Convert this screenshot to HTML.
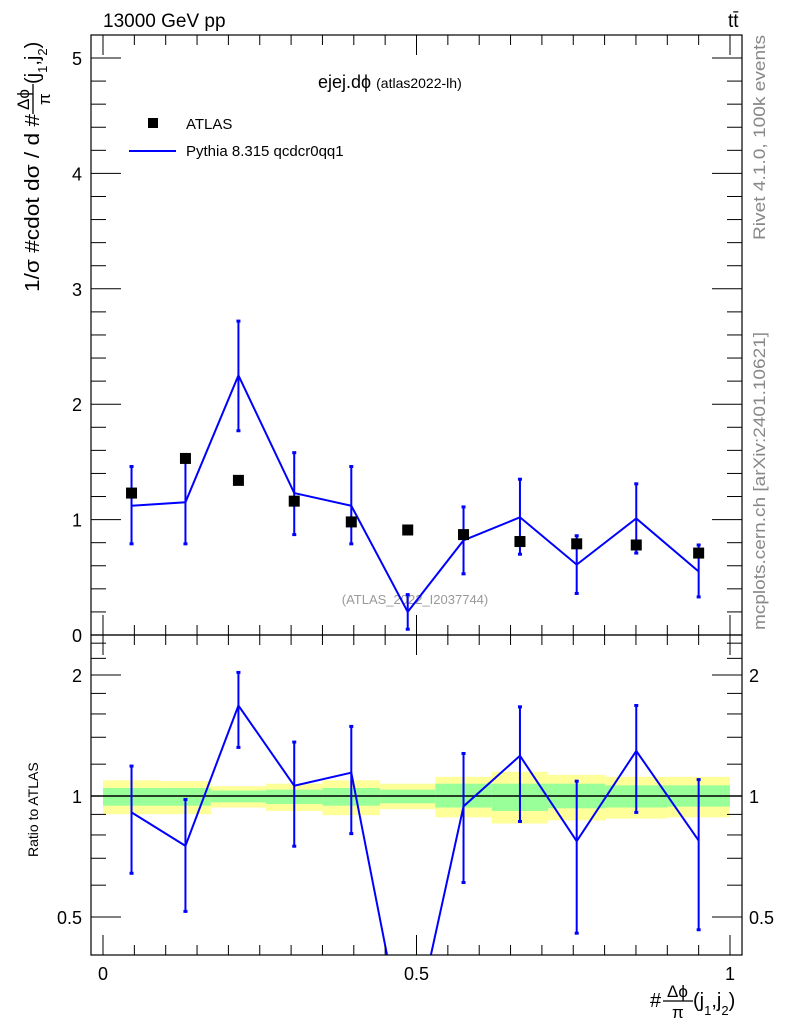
<!DOCTYPE html>
<html><head><meta charset="utf-8"><style>
html,body{margin:0;background:#fff;overflow:hidden;width:786px;height:1024px}
svg text{font-family:"Liberation Sans",sans-serif}
</style></head><body>
<svg id="c" width="786" height="1024" xmlns="http://www.w3.org/2000/svg" style="display:block;overflow:hidden">
<text x="103" y="27" font-size="19">13000 GeV pp</text>
<text x="728" y="27" font-size="19">tt̄</text>
<text x="318" y="88" font-size="18">ejej.dϕ <tspan font-size="14">(atlas2022-lh)</tspan></text>
<g>
<rect x="148" y="118" width="10" height="10" fill="#000"/>
<text x="186" y="129" font-size="15">ATLAS</text>
<line x1="129" y1="151" x2="176" y2="151" stroke="#0000ff" stroke-width="2"/>
<text x="186" y="156" font-size="15">Pythia 8.315 qcdcr0qq1</text>
</g>
<text x="415" y="604" font-size="13" fill="#999" text-anchor="middle">(ATLAS_2022_I2037744)</text>
<text transform="translate(765,240) rotate(-90)" font-size="17" fill="#888" textLength="205" lengthAdjust="spacingAndGlyphs">Rivet 4.1.0,  100k events</text>
<text transform="translate(765,630) rotate(-90)" font-size="17" fill="#888" textLength="298" lengthAdjust="spacingAndGlyphs">mcplots.cern.ch [arXiv:2401.10621]</text>
<g transform="translate(39,292) rotate(-90)">
<text x="0" y="0" font-size="20" textLength="178" lengthAdjust="spacingAndGlyphs">1/σ #cdot dσ / d #</text>
<text x="182" y="-10" font-size="17">Δϕ</text>
<line x1="178" y1="-6" x2="208" y2="-6" stroke="#000" stroke-width="1.3"/>
<text x="187" y="11" font-size="17">π</text>
<text x="208" y="0" font-size="20">(j<tspan font-size="13" dy="8">1</tspan><tspan dy="-8">,j</tspan><tspan font-size="13" dy="8">2</tspan><tspan dy="-8">)</tspan></text>
</g>
<text transform="translate(38,857) rotate(-90)" font-size="14">Ratio to ATLAS</text>
<g>
<text x="650" y="1007" font-size="20">#</text>
<text x="667" y="997" font-size="17">Δϕ</text>
<line x1="663" y1="1001" x2="693" y2="1001" stroke="#000" stroke-width="1.3"/>
<text x="672" y="1018" font-size="17">π</text>
<text x="693" y="1007" font-size="20">(j<tspan font-size="13" dy="8">1</tspan><tspan dy="-8">,j</tspan><tspan font-size="13" dy="8">2</tspan><tspan dy="-8">)</tspan></text>
</g>
<g id="bands"></g><g id="marks"></g><g id="axes"></g>
</svg>
<script>
const edges=[0,0.091,0.172,0.260,0.350,0.442,0.530,0.620,0.710,0.801,0.900,1.0];
const atlasValues=[1.23,1.53,1.34,1.16,0.98,0.91,0.87,0.81,0.79,0.78,0.71];
const mcValues=[1.12,1.15,2.25,1.23,1.12,0.20,0.82,1.02,0.61,1.01,0.55];
const mcErrUp=[0.34,0.35,0.47,0.35,0.34,0.15,0.29,0.33,0.25,0.30,0.23];
const mcErrDn=[0.33,0.36,0.48,0.36,0.33,0.15,0.29,0.32,0.25,0.30,0.22];
const yellowHi=[1.094,1.089,1.058,1.073,1.094,1.073,1.116,1.149,1.129,1.116,1.116];
const yellowLo=[0.901,0.901,0.936,0.918,0.896,0.927,0.885,0.854,0.870,0.879,0.885];
const greenHi=[1.047,1.047,1.032,1.037,1.047,1.037,1.073,1.073,1.073,1.063,1.063];
const greenLo=[0.946,0.946,0.964,0.955,0.946,0.959,0.936,0.918,0.932,0.936,0.941];
const NS='http://www.w3.org/2000/svg';
const X=v=>103+627*v, Y=v=>635-115.4*v, R=v=>796-121*Math.log2(v);
const L=91,Rr=742,T=35,M=635,B=955;
function el(tag,a,p){const e=document.createElementNS(NS,tag);for(const k in a)e.setAttribute(k,a[k]);document.getElementById(p).appendChild(e);return e;}
const defs=el('defs',{},'c');
const cp=document.createElementNS(NS,'clipPath');cp.setAttribute('id','cr');defs.appendChild(cp);
const cr=document.createElementNS(NS,'rect');cr.setAttribute('x',L);cr.setAttribute('y',M);cr.setAttribute('width',Rr-L);cr.setAttribute('height',B-M);cp.appendChild(cr);
for(let i=0;i<atlasValues.length;i++){
  const x0=X(edges[i]),x1=X(edges[i+1]);
  let r=el('rect',{x:x0,y:R(yellowHi[i]),width:x1-x0,height:R(yellowLo[i])-R(yellowHi[i]),fill:'#ffff99'},'bands');
  
  
  r=el('rect',{x:x0,y:R(greenHi[i]),width:x1-x0,height:R(greenLo[i])-R(greenHi[i]),fill:'#99ff99'},'bands');
  
  
}
let ln=el('line',{x1:L,x2:Rr,y1:R(1),y2:R(1),stroke:'#000','stroke-width':1.5},'bands');


const cx=i=>X((edges[i]+edges[i+1])/2);
let pts=mcValues.map((v,i)=>cx(i)+','+Y(v)).join(' ');
let pl=el('polyline',{points:pts,fill:'none',stroke:'#0000ff','stroke-width':2},'marks');


let rp=mcValues.map((v,i)=>cx(i)+','+R(v/atlasValues[i])).join(' ');
pl=el('polyline',{points:rp,fill:'none',stroke:'#0000ff','stroke-width':2,'clip-path':'url(#cr)'},'marks');


for(let i=0;i<mcValues.length;i++){
  const x=cx(i);
  let e=el('line',{x1:x,x2:x,y1:Y(mcValues[i]+mcErrUp[i]),y2:Y(mcValues[i]-mcErrDn[i]),stroke:'#0000ff','stroke-width':2},'marks');
  
  
  for(const v of [mcValues[i]+mcErrUp[i],mcValues[i]-mcErrDn[i]]){
    e=el('rect',{x:x-2,y:Y(v)-1.5,width:4,height:3,fill:'#0000ff'},'marks');
    
    
  }
  const a=atlasValues[i];
  const hi=(mcValues[i]+mcErrUp[i])/a, lo=Math.max((mcValues[i]-mcErrDn[i])/a,0.01);
  e=el('line',{x1:x,x2:x,y1:R(hi),y2:R(lo),stroke:'#0000ff','stroke-width':2,'clip-path':'url(#cr)'},'marks');
  
  
  for(const v of [hi,lo]){
    e=el('rect',{x:x-2,y:R(v)-1.5,width:4,height:3,fill:'#0000ff','clip-path':'url(#cr)'},'marks');
    
    
  }
  e=el('rect',{x:x-5.5,y:Y(a)-5.5,width:11,height:11,fill:'#000'},'marks');
  
  
}
for(const [y0,y1,n] of [[T,M,'main-frame'],[M,B,'ratio-frame']]){
  const f=el('rect',{x:L,y:y0,width:Rr-L,height:y1-y0,fill:'none',stroke:'#000','stroke-width':1.2},'axes');
  
  
}
function tick(x1,y1,x2,y2){el('line',{x1,y1,x2,y2,stroke:'#000','stroke-width':1},'axes');}
function txt(x,y,s,anchor,size){const t=el('text',{x,y,'font-size':size||18,'text-anchor':anchor},'axes');t.textContent=s;}
for(let k=0;k<=20;k++){const v=k*0.05,x=X(v),len=(k%10==0)?20:10;
  tick(x,T,x,T+len);tick(x,M,x,M-len);tick(x,M,x,M+len);tick(x,B,x,B-len);}
txt(X(0),980,'0','middle');txt(X(0.5),980,'0.5','middle');txt(X(1),980,'1','middle');
for(let k=0;k<=26;k++){const v=k*0.2,y=Y(v);if(y<T)continue;const len=(k%5==0)?30:15;
  tick(L,y,L+len,y);tick(Rr,y,Rr-len,y);}
for(let v=0;v<=5;v++)txt(82,Y(v)+7,String(v),'end');
const rMaj=[0.5,1,2],rMin=[0.6,0.7,0.8,0.9,1.2,1.4,1.6,1.8,2.2,2.4];
for(const v of rMaj){const y=R(v);tick(L,y,L+30,y);tick(Rr,y,Rr-30,y);
  txt(82,y+7,String(v),'end');txt(749,y+7,String(v),'start');}
for(const v of rMin){const y=R(v);if(y<M)continue;tick(L,y,L+15,y);tick(Rr,y,Rr-15,y);}
</script>
</body></html>
